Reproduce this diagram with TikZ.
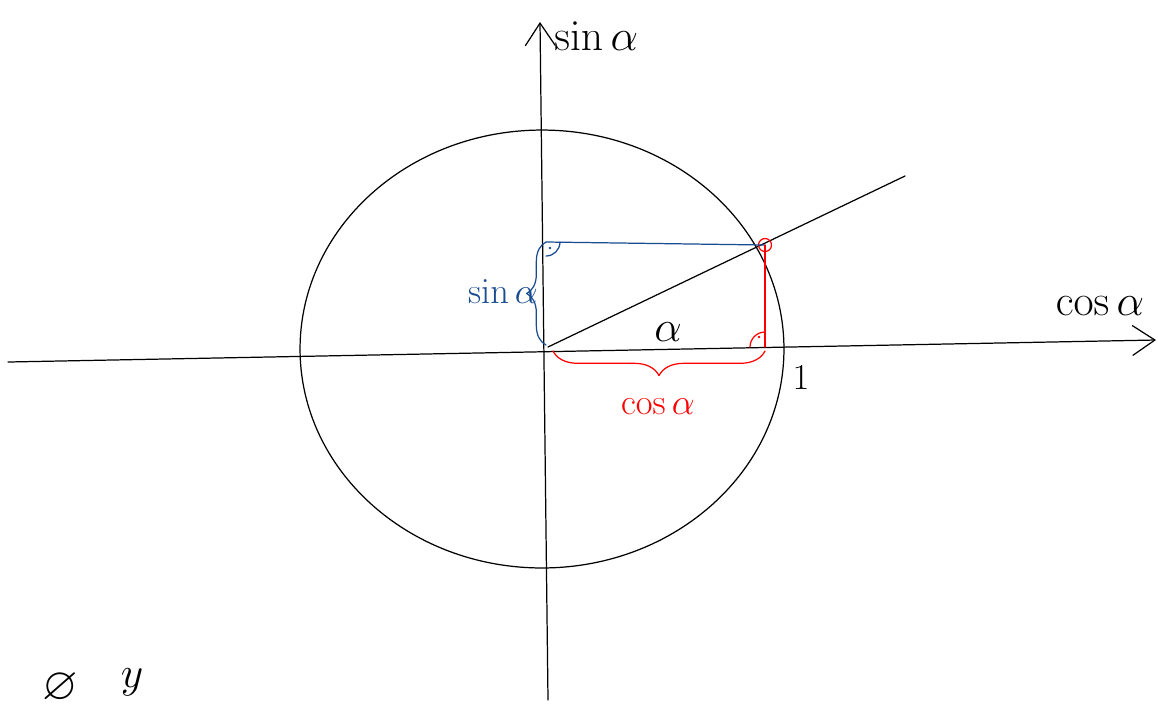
\documentclass[tikz,border=0pt]{standalone}
\usepackage{amsmath,amssymb}
\usetikzlibrary{arrows.meta,decorations.pathreplacing}

\begin{document}
\begin{tikzpicture}[x=0.02cm,y=-0.02cm]
\tikzset{
  axisline/.style={draw=black,line width=0.7pt,line cap=round,line join=round},
  axisarrow/.style={axisline,-{Straight Barb[length=4.5mm,width=6mm,line width=0.7pt]}},
  handlabel/.style={inner sep=0pt,font=\fontsize{26}{28}\selectfont},
  blueline/.style={draw=sinblue,line width=0.7pt,line cap=round,line join=round},
  redline/.style={draw=red,line width=0.7pt,line cap=round,line join=round},
  bracedeco/.style={decorate,decoration={brace,amplitude=#1}}
}
\definecolor{sinblue}{RGB}{25,75,145}
\useasboundingbox (0,0) rectangle (1158,704);
% axes
\coordinate (n_xl) at (8,362);
\coordinate (n_xr) at (1156,340);
\coordinate (n_yb) at (548,700);
\coordinate (n_yt) at (540,22);
\coordinate (n_O) at (548,347);
\draw[axisarrow] (n_xl) -- (n_xr);
\draw[axisarrow] (n_yb) -- (n_yt);
% unit circle
\draw[axisline] (542,349) ellipse [x radius=4.84cm,y radius=4.38cm];
% radius through the point
\coordinate (n_P) at (765,245);
\coordinate (n_end) at (905,176);
\draw[axisline] (n_O) -- (n_end);
\draw[redline] (n_P) circle (0.13cm);
% sine
\coordinate (n_S) at (546,242);
\coordinate (n_Sb) at (546,345);
\draw[blueline] (n_P) -- (n_S);
\draw[blueline,bracedeco=11pt] (n_Sb) -- (n_S);
\draw[blueline] ([yshift=-0.28cm]n_S) arc[start angle=270,end angle=360,radius=0.28cm];
\fill[sinblue] ([xshift=0.08cm,yshift=-0.12cm]n_S) circle (0.8pt);
% cosine
\coordinate (n_F) at (765,347);
\coordinate (n_Ob) at (553,351);
\coordinate (n_Fb) at (765,351);
\draw[redline] (n_P) -- (n_F);
\draw[redline,bracedeco=14pt] (n_Fb) -- (n_Ob);
\draw[redline] ([xshift=-0.3cm]n_F) arc[start angle=180,end angle=90,radius=0.3cm];
\fill[red] ([xshift=-0.12cm,yshift=0.2cm]n_F) circle (0.8pt);
% labels
\node[handlabel] (n_cosaxis) at (1100,306) {$\cos\alpha$};
\node[handlabel,anchor=west] (n_sinaxis) at (554,36) {$\sin\alpha$};
\node[handlabel,text=sinblue,font=\fontsize{20}{22}\selectfont] (n_sinlab) at (503,292) {$\sin\alpha$};
\node[handlabel,text=red,font=\fontsize{22}{24}\selectfont] (n_coslab) at (658,407) {$\cos\alpha$};
\node[handlabel,font=\fontsize{24}{26}\selectfont] (n_alpha) at (668,332) {$\alpha$};
\node[handlabel,font=\fontsize{22}{24}\selectfont] (n_one) at (801,378) {$1$};
\node[handlabel,font=\fontsize{26}{28}\selectfont] (n_phi) at (60,688) {$\varnothing$};
\node[handlabel] (n_y) at (132,682) {$y$};
\end{tikzpicture}
\end{document}
